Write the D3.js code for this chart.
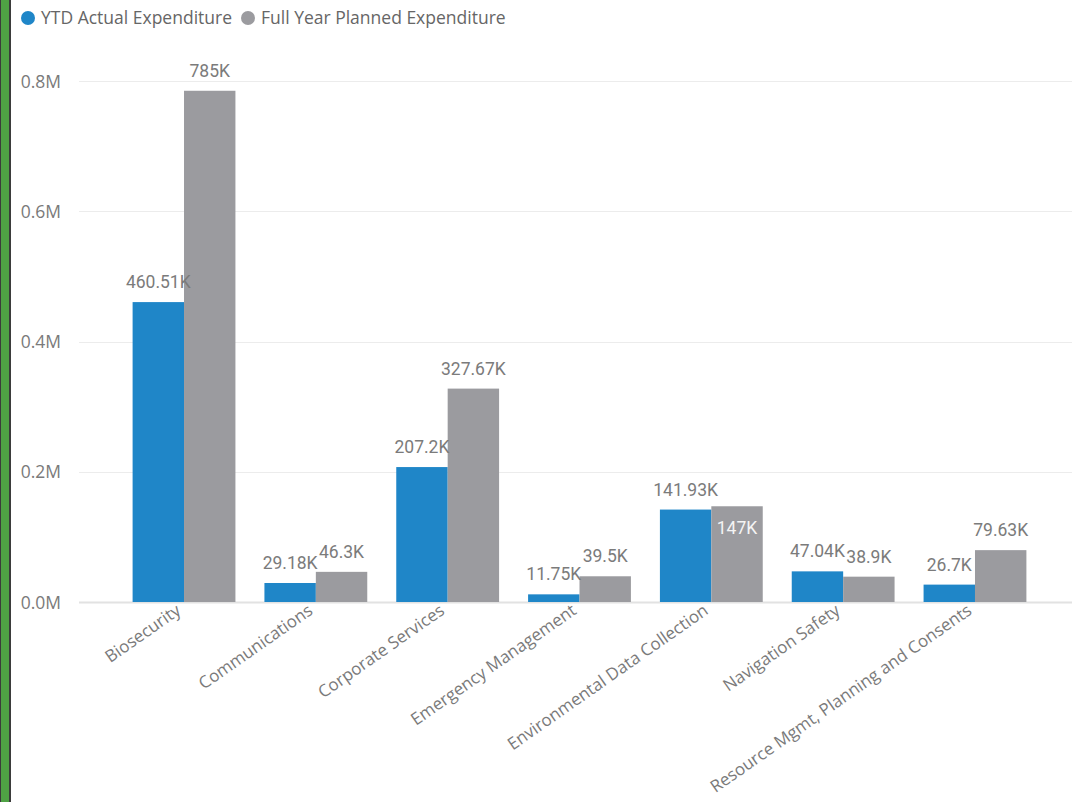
<!DOCTYPE html>
<html>
<head>
<meta charset="utf-8">
<script src="https://cdn.jsdelivr.net/npm/d3@7"></script>
<style>
  html, body { margin: 0; padding: 0; background: #fff; }
  svg { display: block; }
</style>
</head>
<body>
<svg id="chart" width="1072" height="802"></svg>
<script>
// Expenditure by area, in thousands
const categories = [
  "Biosecurity",
  "Communications",
  "Corporate Services",
  "Emergency Management",
  "Environmental Data Collection",
  "Navigation Safety",
  "Resource Mgmt, Planning and Consents"
];
const ytdActual = [460.51, 29.18, 207.2, 11.75, 141.93, 47.04, 26.7];
const fullYearPlanned = [785, 46.3, 327.67, 39.5, 147, 38.9, 79.63];
const seriesNames = ["YTD Actual Expenditure", "Full Year Planned Expenditure"];
const seriesColors = ["#1f86c8", "#9b9b9f"];
const yTicks = [0, 200, 400, 600, 800];

const svg = d3.select("#chart");
const W = 1072, H = 802;
const uiFont = "'Segoe UI', 'Open Sans', 'Noto Sans', sans-serif";
const uiSize = 17.5;
const labelFont = "Roboto, 'DejaVu Sans', sans-serif";

// page frame stripe on the left
svg.append("rect").attr("x", 0).attr("y", 0).attr("width", 11).attr("height", H).attr("fill", "#3b3b3b");
svg.append("rect").attr("x", 1).attr("y", 0).attr("width", 8).attr("height", H).attr("fill", "#4fa244");

const plot = { left: 79, right: W, top: 81, bottom: 602 };

const x = d3.scaleBand()
  .domain(categories)
  .range([118.1, 1040.9])
  .paddingInner(0.22)
  .paddingOuter(0.11);

const xSub = d3.scaleBand()
  .domain([0, 1])
  .range([0, x.bandwidth()]);

const y = d3.scaleLinear()
  .domain([0, 800])
  .range([plot.bottom, plot.top]);

// gridlines
svg.append("g")
  .selectAll("line")
  .data(yTicks)
  .join("line")
  .attr("x1", plot.left)
  .attr("x2", plot.right)
  .attr("y1", d => Math.round(y(d)) + 0.5)
  .attr("y2", d => Math.round(y(d)) + 0.5)
  .attr("stroke", d => d === 0 ? "#e2e2e2" : "#ececec")
  .attr("stroke-width", d => d === 0 ? 2 : 1);

// y axis labels
const yAxis = d3.axisLeft(y)
  .tickValues(yTicks)
  .tickSize(0)
  .tickPadding(0)
  .tickFormat(d => d3.format(".1f")(d / 1000) + "M");
const yg = svg.append("g").attr("transform", "translate(61,0)").call(yAxis);
yg.select(".domain").remove();
yg.selectAll("text")
  .attr("fill", "#7a7a7a")
  .attr("font-family", uiFont)
  .attr("font-size", uiSize)
  .attr("dy", "0.35em");

// bars
const series = [ytdActual, fullYearPlanned];
const rows = categories.map((c, i) => ({ cat: c, vals: series.map(s => s[i]) }));

const groups = svg.append("g")
  .selectAll("g")
  .data(rows)
  .join("g")
  .attr("transform", d => `translate(${x(d.cat)},0)`);

groups.selectAll("rect")
  .data(d => d.vals.map((v, k) => ({ v, k })))
  .join("rect")
  .attr("x", d => xSub(d.k))
  .attr("width", xSub.bandwidth())
  .attr("y", d => y(d.v))
  .attr("height", d => y(0) - y(d.v))
  .attr("fill", d => seriesColors[d.k]);

// data labels
const fmtK = v => `${+v.toFixed(2)}K`;
const labelLayer = svg.append("g");
rows.forEach(row => {
  const boxes = [];
  row.vals.forEach((v, k) => {
    const cx = x(row.cat) + xSub(k) + xSub.bandwidth() / 2;
    const t = labelLayer.append("text")
      .attr("x", cx)
      .attr("y", y(v) - 14)
      .attr("text-anchor", "middle")
      .attr("font-family", labelFont)
      .attr("font-size", 17.5)
      .attr("fill", "#7b7b7b")
      .text(fmtK(v));
    const b = t.node().getBBox();
    // a label that overlaps its neighbour moves inside the top of its bar
    const hit = boxes.some(o => b.x < o.x + o.width && b.x + b.width > o.x &&
                                 b.y < o.y + o.height && b.y + b.height > o.y);
    if (hit) {
      t.attr("y", y(v) + 28).attr("fill", "#f4f4f4");
    }
    boxes.push(t.node().getBBox());
  });
});

// x axis labels
const xg = svg.append("g");
xg.selectAll("text")
  .data(categories)
  .join("text")
  .attr("transform", d => `translate(${x(d) + x.bandwidth() / 2 - 2},613) rotate(-35)`)
  .attr("text-anchor", "end")
  .attr("font-family", uiFont)
  .attr("font-size", 17)
  .attr("fill", "#7a7a7a")
  .text(d => d);

// legend
const legend = svg.append("g").attr("transform", "translate(21,18)");
let lx = 0;
seriesNames.forEach((name, k) => {
  const item = legend.append("g").attr("transform", `translate(${lx},0)`);
  item.append("circle").attr("cx", 7).attr("cy", 0).attr("r", 7).attr("fill", seriesColors[k]);
  const t = item.append("text")
    .attr("x", 20)
    .attr("y", 0)
    .attr("dy", "0.35em")
    .attr("font-family", uiFont)
    .attr("font-size", uiSize)
    .attr("fill", "#666")
    .text(name);
  lx += 20 + t.node().getComputedTextLength() + 9;
});
</script>
</body>
</html>
